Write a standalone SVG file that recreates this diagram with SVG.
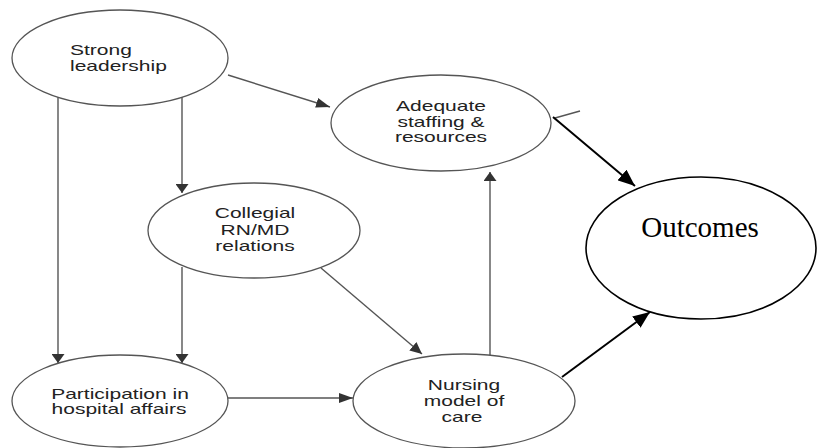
<svg xmlns="http://www.w3.org/2000/svg" width="817" height="448" viewBox="0 0 817 448">
<style>
.n{fill:#fff;stroke:#555;stroke-width:1.3}
.o{fill:#fff;stroke:#000;stroke-width:1.6}
.t{font-family:"Liberation Sans",Arial,sans-serif;font-size:14px;fill:#222;text-anchor:middle}
.ts{text-anchor:start}
.to{font-family:"Liberation Serif","Times New Roman",serif;font-size:29px;fill:#000;text-anchor:middle}
.g{stroke:#555;stroke-width:1.4;fill:none}
.b{stroke:#000;stroke-width:2;fill:none}
</style>
<defs>
<marker id="av" markerUnits="userSpaceOnUse" markerWidth="10" markerHeight="13" refX="9" refY="6.5" orient="auto"><path d="M0,0 L9,6.5 L0,13 Z" fill="#333"/></marker>
<marker id="ah" markerUnits="userSpaceOnUse" markerWidth="15" markerHeight="10" refX="14" refY="5" orient="auto"><path d="M0,0 L14,5 L0,10 Z" fill="#333"/></marker>
<marker id="ad" markerUnits="userSpaceOnUse" markerWidth="13" markerHeight="11" refX="12" refY="5.5" orient="auto"><path d="M0,0 L12,5.5 L0,11 Z" fill="#333"/></marker>
<marker id="ab" markerUnits="userSpaceOnUse" markerWidth="18" markerHeight="14" refX="17" refY="7" orient="auto"><path d="M0,0 L17,7 L0,14 Z" fill="#000"/></marker>
</defs>
<g id="connectors">
<line class="g" x1="228" y1="75" x2="330" y2="107" marker-end="url(#ah)"/>
<line class="g" x1="58" y1="97" x2="58" y2="363" marker-end="url(#av)"/>
<line class="g" x1="182" y1="97" x2="182" y2="193" marker-end="url(#av)"/>
<line class="g" x1="182" y1="267" x2="182" y2="363" marker-end="url(#av)"/>
<line class="g" x1="321" y1="268" x2="422" y2="354" marker-end="url(#ad)"/>
<line class="g" x1="228" y1="398" x2="353" y2="398" marker-end="url(#ah)"/>
<line class="g" x1="490" y1="355" x2="490" y2="172" marker-end="url(#av)"/>
<line class="g" x1="555" y1="118" x2="580" y2="111"/>
<line class="b" x1="553" y1="117" x2="635" y2="186" marker-end="url(#ab)"/>
<line class="b" x1="562" y1="377" x2="650" y2="312" marker-end="url(#ab)"/>
</g>
<g id="strong-leadership">
<ellipse class="n" cx="120" cy="58" rx="108" ry="48"/>
<text class="t ts" transform="translate(70,55) scale(1.5,1)">Strong</text>
<text class="t ts" transform="translate(70,71) scale(1.5,1)">leadership</text>
</g>
<g id="adequate-staffing">
<ellipse class="n" cx="441" cy="123" rx="110" ry="48"/>
<text class="t" transform="translate(441,111) scale(1.5,1)">Adequate</text>
<text class="t" transform="translate(441,127) scale(1.5,1)">staffing &amp;</text>
<text class="t" transform="translate(441,142) scale(1.5,1)">resources</text>
</g>
<g id="collegial-relations">
<ellipse class="n" cx="254" cy="230.5" rx="106" ry="47.5"/>
<text class="t" transform="translate(255,218) scale(1.5,1)">Collegial</text>
<text class="t" transform="translate(255,235) scale(1.5,1)">RN/MD</text>
<text class="t" transform="translate(255,251) scale(1.5,1)">relations</text>
</g>
<g id="participation">
<ellipse class="n" cx="120" cy="401" rx="108" ry="46"/>
<text class="t" transform="translate(120,399) scale(1.5,1)">Participation in</text>
<text class="t" transform="translate(119,414) scale(1.5,1)">hospital affairs</text>
</g>
<g id="nursing-model">
<ellipse class="n" cx="464" cy="401" rx="111" ry="47"/>
<text class="t" transform="translate(464,390) scale(1.5,1)">Nursing</text>
<text class="t" transform="translate(464,406) scale(1.5,1)">model of</text>
<text class="t" transform="translate(462,422) scale(1.5,1)">care</text>
</g>
<g id="outcomes">
<ellipse class="o" cx="701" cy="248" rx="115" ry="71"/>
<text class="to" x="700" y="237">Outcomes</text>
</g>
</svg>
